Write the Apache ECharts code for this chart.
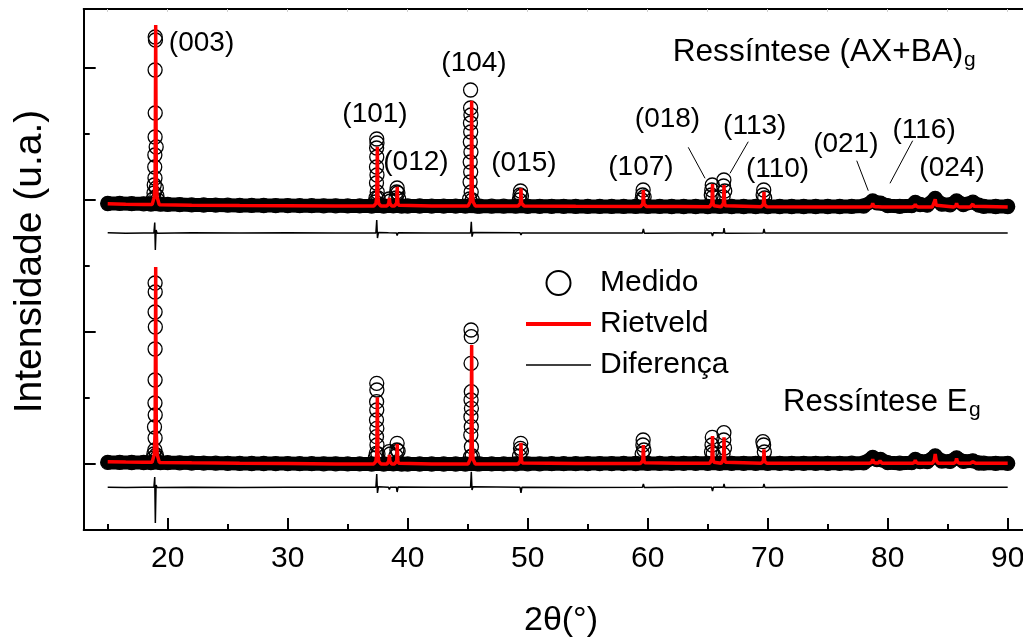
<!DOCTYPE html>
<html>
<head>
<meta charset="utf-8">
<script src="https://cdn.jsdelivr.net/npm/echarts@6/dist/echarts.min.js"></script>
<style>
  html, body { margin: 0; padding: 0; background: #fff; }
  #chart { width: 1023px; height: 642px; }
</style>
</head>
<body>
<div id="chart"></div>
<script>
// ---- Axis ticks (2θ in degrees, intensity in arbitrary units) ----
const xMajorTicks = [20, 30, 40, 50, 60, 70, 80, 90];
const xMinorTicks = [15, 25, 35, 45, 55, 65, 75, 85];
const xTopTicks = [15, 20, 25, 30, 35, 40, 45, 50, 55, 60, 65, 70, 75, 80, 85, 90];
const yMajorTicks = [660, 1980, 3300, 4620];
const yMinorTicks = [1320, 2640, 3960];

// ---- Ressíntese (AX+BA)g : measured background scan [2θ, I] ----
const obsTopBackground = [
  [15,3265],[16,3266],[17,3263],[18,3262],[18.6,3260],[19.4,3258],[20,3256],[21,3254],[22,3251],[23,3250],
  [24,3249],[25,3248],[26,3246],[27,3246],[28,3245],[29,3244],[30,3244],[31,3243],[32,3243],[33,3242],
  [34,3242],[35,3241],[36,3241],[37,3240],[38,3240],[38.8,3241],[39.5,3240],[40,3240],[41,3240],[42,3239],
  [43,3239],[44,3239],[44.8,3239],[45.8,3238],[46,3238],[47,3238],[48,3238],[49,3238],[50,3237],[51,3237],
  [52,3237],[53,3237],[54,3236],[55,3236],[56,3236],[57,3236],[58,3236],[59,3236],[60,3236],[61,3236],
  [62,3235],[63,3235],[64,3235],[65,3235],[66,3236],[67,3235],[68,3235],[69,3235],[70,3235],[71,3235],
  [72,3235],[73,3235],[74,3235],[75,3235],[76,3235],[77,3236],[78,3240],[78.75,3290],[79.1,3272],[79.4,3268],
  [80,3243],[81,3237],[82,3243],[82.3,3275],[82.7,3255],[83.3,3248],[83.96,3315],[84.5,3258],[85.2,3252],[85.74,3290],
  [86.3,3255],[87.1,3278],[87.6,3248],[88,3237],[89,3235],[90,3235]
];
// measured points on the reflections [2θ, I]
const obsTopPeaks = [
  [18.96,4930],[18.98,4900],[18.95,4600],[18.96,4170],[18.95,3930],[19.04,3830],[18.93,3750],[18.92,3630],
  [18.94,3520],[19.05,3420],[18.88,3450],[18.86,3370],[19.10,3340],[18.80,3310],[19.15,3300],
  [37.42,3910],[37.44,3870],[37.41,3820],[37.42,3730],[37.40,3630],[37.44,3550],[37.40,3470],[37.46,3380],
  [37.36,3320],[37.53,3320],[37.30,3280],
  [38.45,3310],[38.55,3290],
  [39.12,3420],[39.08,3380],[39.18,3370],[39.02,3320],[39.25,3310],
  [45.24,4400],[45.24,4220],[45.27,4150],[45.23,4070],[45.25,3980],[45.22,3880],[45.27,3780],[45.21,3680],
  [45.25,3580],[45.20,3480],[45.29,3380],[45.16,3310],[45.38,3300],
  [49.40,3390],[49.36,3350],[49.48,3340],[49.30,3300],
  [59.62,3400],[59.58,3350],[59.70,3330],[59.52,3300],
  [65.38,3450],[65.34,3400],[65.30,3350],[65.45,3330],
  [66.35,3500],[66.32,3440],[66.42,3390],[66.28,3330],
  [69.67,3400],[69.62,3350],[69.75,3320]
];
// Rietveld calculated profile [2θ, I]
const calcTop = [
  [15.0,3262],[16.5,3258],[18.0,3256],
  [18.70,3255],[18.88,3327],[18.95,3524],[18.98,4332],[19.00,5050],[19.02,4332],[19.05,3524],[19.12,3327],[19.30,3252],
  [22.0,3248],[26.0,3245],[30.0,3243],[34.0,3241],
  [37.17,3240],[37.35,3264],[37.42,3329],[37.45,3596],[37.47,3833],[37.49,3596],[37.52,3329],[37.59,3264],[37.77,3240],
  [38.27,3240],[38.42,3264],[38.47,3320],[38.52,3264],[38.67,3240],
  [38.90,3240],[39.01,3248],[39.08,3269],[39.11,3356],[39.13,3433],[39.15,3356],[39.18,3269],[39.25,3248],[39.40,3240],
  [42.0,3240],
  [45.03,3240],[45.21,3282],[45.28,3398],[45.31,3872],[45.33,4293],[45.35,3872],[45.38,3398],[45.45,3282],[45.63,3240],
  [49.20,3240],[49.32,3247],[49.39,3267],[49.42,3346],[49.44,3417],[49.46,3346],[49.49,3267],[49.56,3247],[49.70,3240],
  [54.0,3237],
  [59.40,3235],[59.52,3242],[59.59,3260],[59.62,3334],[59.64,3400],[59.66,3334],[59.69,3260],[59.76,3242],[59.90,3235],
  [62.5,3234],
  [65.16,3233],[65.28,3242],[65.35,3267],[65.38,3369],[65.40,3460],[65.42,3369],[65.45,3267],[65.52,3242],[65.64,3233],
  [66.12,3233],[66.24,3242],[66.31,3266],[66.34,3363],[66.36,3450],[66.38,3363],[66.41,3266],[66.48,3242],[66.60,3233],
  [69.45,3233],[69.57,3239],[69.64,3256],[69.67,3323],[69.69,3383],[69.71,3323],[69.74,3256],[69.81,3239],[69.93,3233],
  [74.0,3231],
  [78.50,3230],[78.68,3240],[78.75,3267],[78.82,3240],[79.00,3232],
  [79.20,3232],[79.36,3242],[79.52,3231],
  [82.05,3230],[82.23,3238],[82.30,3260],[82.37,3238],[82.55,3230],
  [83.72,3230],[83.88,3248],[83.96,3307],[84.04,3248],[84.20,3230],
  [85.50,3230],[85.67,3240],[85.74,3267],[85.81,3240],[85.98,3230],
  [86.88,3230],[87.03,3238],[87.10,3260],[87.17,3238],[87.32,3230],
  [90.0,3230]
];
// measured minus calculated, shown below the pattern
const diffTop = [
  [15,2972],[16.5,2968],[18,2971],[18.85,2970],[18.92,3075],[18.97,2800],[19.03,3000],[19.12,2968],
  [22,2972],[26,2969],[30,2972],[34,2970],
  [37.35,2970],[37.42,3100],[37.48,2920],[37.56,2975],[37.7,2970],
  [38.4,2972],[38.47,2985],[38.55,2970],[39.06,2970],[39.12,2945],[39.2,2972],[42,2970],
  [45.24,2970],[45.30,3083],[45.36,2933],[45.44,2975],[45.6,2970],
  [49.36,2972],[49.44,2950],[49.52,2971],[54,2969],
  [59.56,2970],[59.64,3010],[59.72,2968],[62.5,2971],
  [65.32,2970],[65.40,2940],[65.48,2972],[66.30,2970],[66.36,3020],[66.43,2968],
  [69.62,2970],[69.69,3010],[69.77,2969],[74,2971],
  [78.7,2970],[78.75,2985],[78.82,2968],[83.9,2970],[83.96,2988],[84.02,2968],[90,2970]
];

// ---- Ressíntese Eg ----
const obsBotBackground = [
  [15,676],[16,676],[17,675],[18,675],[18.6,674],[19.4,673],[20,673],[21,672],[22,670],[23,669],
  [24,668],[25,667],[26,666],[27,665],[28,665],[29,664],[30,664],[31,663],[32,663],[33,662],
  [34,662],[35,661],[36,661],[37,660],[38,660],[38.8,661],[39.5,660],[40,660],[41,660],[42,660],
  [43,660],[44,660],[44.8,660],[45.8,661],[46,661],[47,661],[48,661],[49,662],[50,662],[51,662],
  [52,663],[53,663],[54,663],[55,664],[56,664],[57,664],[58,665],[59,665],[60,666],[61,666],
  [62,666],[63,667],[64,667],[65,667],[66,667],[67,667],[68,667],[69,667],[70,667],[71,667],
  [72,667],[73,667],[74,667],[75,667],[76,667],[77,668],[78,671],[78.75,725],[79.1,705],[79.4,705],
  [80,673],[81,668],[82,673],[82.3,705],[82.7,685],[83.3,685],[83.96,740],[84.5,690],[85.2,686],[85.74,722],
  [86.3,686],[87.1,692],[87.6,670],[88,668],[89,667],[90,667]
];
const obsBotPeaks = [
  [18.95,2470],[18.96,2380],[18.95,2180],[18.97,2030],[18.95,1810],[18.95,1500],[18.94,1270],[18.96,1150],
  [18.90,1030],[18.95,920],[18.93,800],[18.85,760],[19.05,750],[18.80,720],[19.10,720],
  [37.42,1467],[37.43,1400],[37.41,1283],[37.42,1200],[37.40,1100],[37.43,1017],[37.40,933],[37.44,850],
  [37.38,767],[37.52,760],[37.30,720],
  [38.45,783],[38.55,760],
  [39.12,867],[39.10,800],[39.20,790],[39.02,740],
  [45.28,2000],[45.30,1933],[45.28,1667],[45.30,1383],[45.28,1300],[45.31,1217],[45.27,1133],[45.30,1033],
  [45.26,950],[45.31,833],[45.24,733],[45.38,740],
  [49.42,867],[49.40,817],[49.48,790],[49.32,740],
  [59.62,900],[59.60,850],[59.68,800],[59.54,760],
  [65.38,927],[65.36,850],[65.32,780],[65.46,760],
  [66.35,973],[66.34,900],[66.40,820],[66.28,760],
  [69.60,883],[69.66,850],[69.72,780]
];
const calcBot = [
  [15.0,683],[16.5,680],[18.0,678],
  [18.70,678],[18.88,756],[18.95,971],[18.98,1849],[19.00,2630],[19.02,1849],[19.05,971],[19.12,756],[19.30,676],
  [22.0,672],[26.0,667],[30.0,664],[34.0,661],
  [37.17,660],[37.35,687],[37.42,760],[37.45,1060],[37.47,1327],[37.49,1060],[37.52,760],[37.59,687],[37.77,660],
  [38.27,660],[38.42,687],[38.47,750],[38.52,687],[38.67,660],
  [38.90,660],[39.01,668],[39.08,690],[39.11,780],[39.13,860],[39.15,780],[39.18,690],[39.25,668],[39.40,660],
  [42.0,660],
  [45.03,660],[45.21,708],[45.28,839],[45.31,1374],[45.33,1850],[45.35,1374],[45.38,839],[45.45,708],[45.63,660],
  [49.20,661],[49.32,670],[49.39,693],[49.42,789],[49.44,873],[49.46,789],[49.49,693],[49.56,670],[49.70,662],
  [54.0,664],
  [59.40,666],[59.52,673],[59.59,694],[59.62,776],[59.64,850],[59.66,776],[59.69,694],[59.76,673],[59.90,667],
  [62.5,667],
  [65.16,667],[65.28,678],[65.35,708],[65.38,831],[65.40,940],[65.42,831],[65.45,708],[65.52,678],[65.64,667],
  [66.12,667],[66.24,677],[66.31,706],[66.34,823],[66.36,927],[66.38,823],[66.41,706],[66.48,677],[66.60,667],
  [69.45,667],[69.57,673],[69.64,688],[69.67,751],[69.69,807],[69.71,751],[69.74,688],[69.81,673],[69.93,667],
  [74.0,667],
  [78.50,667],[78.68,679],[78.75,707],[78.82,679],[79.00,669],
  [79.20,669],[79.36,690],[79.52,668],
  [82.05,667],[82.23,677],[82.30,700],[82.37,677],[82.55,667],
  [83.72,667],[83.88,695],[83.96,760],[84.04,695],[84.20,667],
  [85.50,667],[85.67,682],[85.74,717],[85.81,682],[85.98,667],
  [86.88,667],[87.03,672],[87.10,683],[87.17,672],[87.32,667],
  [90.0,667]
];
const diffBot = [
  [15,428],[16.5,426],[18,428],[18.85,427],[18.92,530],[18.97,70],[19.03,450],[19.12,425],
  [22,428],[26,426],[30,428],[34,427],
  [37.35,427],[37.42,560],[37.48,370],[37.56,432],[37.7,427],
  [38.4,428],[38.47,405],[38.55,427],[39.06,427],[39.12,380],[39.2,430],[42,427],
  [45.24,427],[45.30,583],[45.36,400],[45.44,432],[45.6,427],
  [49.36,428],[49.44,370],[49.52,428],[54,426],
  [59.56,427],[59.64,460],[59.72,425],[62.5,428],
  [65.32,427],[65.40,390],[65.48,428],[66.30,427],[66.36,460],[66.43,425],
  [69.62,427],[69.69,460],[69.77,426],[74,428],
  [78.7,427],[78.75,440],[78.82,425],[83.9,427],[83.96,442],[84.02,426],[90,427]
];

// ---- Reflection indices ----
const hklNames = ['(003)', '(101)', '(012)', '(104)', '(015)', '(107)', '(018)', '(113)', '(110)', '(021)', '(116)', '(024)'];

// ---- Text ----
const sampleTop = 'Ressíntese (AX+BA)';
const sampleBot = 'Ressíntese E';
const sampleSub = 'g';
const xTitle = '2θ(°)';
const yTitle = 'Intensidade (u.a.)';

// ---- Layout (placement of annotations, in axis units) ----
const hklAnchors = [
  [22.82,4870],[37.275,4160],[40.69,3675],[45.525,4670],[49.69,3670],[59.44,3625],
  [61.65,4110],[68.92,4040],[70.82,3610],[76.51,3860],[83.03,4000],[85.36,3620]
];
const leaderLines = [
  [[63.38,3827],[64.78,3517]],
  [[68.38,3883],[66.86,3567]],
  [[77.42,3693],[78.38,3393]],
  [[82.08,3893],[80.19,3467]]
];

const FONT = "'Liberation Sans', Arial, Helvetica, sans-serif";
const X_MIN = 13, X_MAX = 91.275, Y_MIN = 0, Y_MAX = 5210;

const chart = echarts.init(document.getElementById('chart'), null, { renderer: 'canvas' });

const circleStyle = { color: 'rgba(0,0,0,0)', borderColor: '#000', borderWidth: 1.3, opacity: 1 };

function measuredSeries(background, peaks) {
  return [
    {
      // dense overlap of the measured circles along the background
      type: 'line', data: background, symbol: 'none', silent: true, z: 1,
      lineStyle: { color: '#000', width: 14, cap: 'round', join: 'round' },
      xAxisIndex: 0, yAxisIndex: 0
    },
    {
      name: 'Medido', type: 'scatter', data: background.concat(peaks),
      symbol: 'circle', symbolSize: 14, itemStyle: circleStyle, z: 2, silent: true,
      xAxisIndex: 0, yAxisIndex: 0
    }
  ];
}
function calcSeries(data) {
  return {
    name: 'Rietveld', type: 'line', data: data, symbol: 'none', z: 4, silent: true,
    color: '#ff0000', lineStyle: { color: '#ff0000', width: 3.5 }, xAxisIndex: 0, yAxisIndex: 0
  };
}
function diffSeries(data) {
  return {
    name: 'Diferença', type: 'line', data: data, symbol: 'none', z: 4, silent: true,
    color: '#000', lineStyle: { color: '#000', width: 1.5 }, xAxisIndex: 0, yAxisIndex: 0
  };
}

const hklSeries = {
  type: 'scatter', silent: true, z: 5, symbolSize: 0,
  itemStyle: { opacity: 1 },
  data: hklNames.map((n, i) => ({ name: n, value: hklAnchors[i] })),
  label: {
    show: true, position: 'inside', formatter: '{b}',
    fontFamily: FONT, fontSize: 28, color: '#000', opacity: 1
  },
  markLine: {
    silent: true, symbol: ['none', 'none'], animation: false,
    label: { show: false },
    lineStyle: { color: '#000', width: 1, type: 'solid', opacity: 1 },
    data: leaderLines.map(l => [{ coord: l[0] }, { coord: l[1] }])
  },
  xAxisIndex: 0, yAxisIndex: 0
};

const axisLineStyle = { color: '#000', width: 2 };

const option = {
  animation: false,
  backgroundColor: '#fff',
  textStyle: { fontFamily: FONT },
  grid: { left: 83.7, right: 0, top: 9, bottom: 112, containLabel: false, outerBoundsMode: 'none' },
  xAxis: [
    {
      type: 'value', min: X_MIN, max: X_MAX, position: 'bottom',
      axisLine: { show: true, onZero: false, lineStyle: axisLineStyle },
      axisTick: { show: true, inside: true, length: 12, lineStyle: { color: '#000', width: 2 }, customValues: xMajorTicks },
      axisLabel: { show: true, customValues: xMajorTicks, fontFamily: FONT, fontSize: 30, color: '#000', margin: 14 },
      splitLine: { show: false }
    },
    {
      type: 'value', min: X_MIN, max: X_MAX, position: 'bottom',
      axisLine: { show: false },
      axisTick: { show: true, inside: true, length: 6, lineStyle: { color: '#000', width: 2 }, customValues: xMinorTicks },
      axisLabel: { show: false }, splitLine: { show: false }
    },
    {
      type: 'value', min: X_MIN, max: X_MAX, position: 'top',
      axisLine: { show: true, onZero: false, lineStyle: axisLineStyle },
      axisTick: { show: true, inside: true, length: 3, lineStyle: { color: '#d0d0d0', width: 1 }, customValues: xTopTicks },
      axisLabel: { show: false }, splitLine: { show: false }
    }
  ],
  yAxis: [
    {
      type: 'value', min: Y_MIN, max: Y_MAX, position: 'left',
      axisLine: { show: true, onZero: false, lineStyle: axisLineStyle },
      axisTick: { show: true, inside: true, length: 12, lineStyle: { color: '#000', width: 2 }, customValues: yMajorTicks },
      axisLabel: { show: false }, splitLine: { show: false }
    },
    {
      type: 'value', min: Y_MIN, max: Y_MAX, position: 'left',
      axisLine: { show: false },
      axisTick: { show: true, inside: true, length: 6, lineStyle: { color: '#000', width: 2 }, customValues: yMinorTicks },
      axisLabel: { show: false }, splitLine: { show: false }
    }
  ],
  legend: {
    orient: 'vertical', left: 526, top: 268, padding: 0,
    itemWidth: 65, itemHeight: 24, itemGap: 11,
    selectedMode: false,
    textStyle: { fontFamily: FONT, fontSize: 30, color: '#000', padding: [0, 0, 0, 4] },
    data: [
      { name: 'Medido', icon: 'circle', itemStyle: { color: 'rgba(0,0,0,0)', borderColor: '#000', borderWidth: 2, opacity: 1 } },
      { name: 'Rietveld', icon: 'path://M0,0H65V4H0Z', itemStyle: { color: '#ff0000', borderWidth: 0, opacity: 1 } },
      { name: 'Diferença', icon: 'path://M0,0H65V1.5H0Z', itemStyle: { color: '#000', borderWidth: 0, opacity: 1 } }
    ]
  },
  graphic: [
    { type: 'text', x: 30, y: 261.5, rotation: Math.PI / 2, silent: true,
      style: { text: yTitle, fontFamily: FONT, fontSize: 39, fill: '#000', align: 'center', verticalAlign: 'middle' } },
    { type: 'text', x: 561, y: 621, silent: true,
      style: { text: xTitle, fontFamily: FONT, fontSize: 34, fill: '#000', align: 'center', verticalAlign: 'middle' } },
    { type: 'text', x: 672.7, y: 52.5, silent: true,
      style: { text: sampleTop, fontFamily: FONT, fontSize: 31.6, fill: '#000', align: 'left', verticalAlign: 'middle' } },
    { type: 'text', x: 964, y: 60, silent: true,
      style: { text: sampleSub, fontFamily: FONT, fontSize: 21, fill: '#000', align: 'left', verticalAlign: 'middle' } },
    { type: 'text', x: 783, y: 402.5, silent: true,
      style: { text: sampleBot, fontFamily: FONT, fontSize: 31, fill: '#000', align: 'left', verticalAlign: 'middle' } },
    { type: 'text', x: 969, y: 410, silent: true,
      style: { text: sampleSub, fontFamily: FONT, fontSize: 21, fill: '#000', align: 'left', verticalAlign: 'middle' } }
  ],
  series: [
    ...measuredSeries(obsTopBackground, obsTopPeaks),
    ...measuredSeries(obsBotBackground, obsBotPeaks),
    calcSeries(calcTop),
    calcSeries(calcBot),
    diffSeries(diffTop),
    diffSeries(diffBot),
    hklSeries
  ]
};

chart.setOption(option);
</script>
</body>
</html>
